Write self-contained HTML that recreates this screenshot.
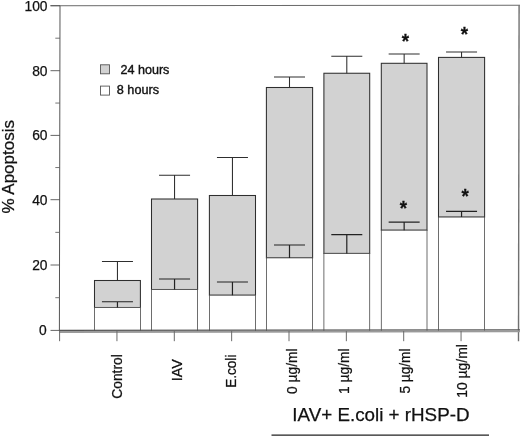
<!DOCTYPE html>
<html><head><meta charset="utf-8"><title>Apoptosis chart</title>
<style>html,body{margin:0;padding:0;background:#fff;}svg{display:block;}text{font-family:"Liberation Sans",sans-serif;fill:#111;stroke:#111;stroke-width:0.25px;}</style>
</head><body>
<svg width="520" height="437" viewBox="0 0 520 437">
<rect x="0" y="0" width="520" height="437" fill="#ffffff"/>
<rect x="94.5" y="280.5" width="45.90" height="27.00" fill="#d2d2d2" stroke="#2e2e2e" stroke-width="1.05"/>
<rect x="94.5" y="307.5" width="45.90" height="23.90" fill="#ffffff" stroke="#4a4a4a" stroke-width="0.8"/>
<path d="M117.45 280.5 V261.5 M101.95 261.5 H132.95" stroke="#2e2e2e" stroke-width="1.05" fill="none"/>
<path d="M117.45 307.5 V301.75 M101.95 301.75 H132.95" stroke="#222" stroke-width="1.2" fill="none"/>
<rect x="151.5" y="199.0" width="46.10" height="90.50" fill="#d2d2d2" stroke="#2e2e2e" stroke-width="1.05"/>
<rect x="151.5" y="289.5" width="46.10" height="41.90" fill="#ffffff" stroke="#4a4a4a" stroke-width="0.8"/>
<path d="M174.55 199.0 V175.25 M159.05 175.25 H190.05" stroke="#2e2e2e" stroke-width="1.05" fill="none"/>
<path d="M174.55 289.5 V279.0 M159.05 279.0 H190.05" stroke="#222" stroke-width="1.2" fill="none"/>
<rect x="209.4" y="195.5" width="46.10" height="99.70" fill="#d2d2d2" stroke="#2e2e2e" stroke-width="1.05"/>
<rect x="209.4" y="295.2" width="46.10" height="36.20" fill="#ffffff" stroke="#4a4a4a" stroke-width="0.8"/>
<path d="M232.45 195.5 V157.5 M216.95 157.5 H247.95" stroke="#2e2e2e" stroke-width="1.05" fill="none"/>
<path d="M232.45 295.2 V282.0 M216.95 282.0 H247.95" stroke="#222" stroke-width="1.2" fill="none"/>
<rect x="266.4" y="87.5" width="46.20" height="170.40" fill="#d2d2d2" stroke="#2e2e2e" stroke-width="1.05"/>
<rect x="266.4" y="257.9" width="46.20" height="73.50" fill="#ffffff" stroke="#4a4a4a" stroke-width="0.8"/>
<path d="M289.50 87.5 V77.0 M274.00 77.0 H305.00" stroke="#2e2e2e" stroke-width="1.05" fill="none"/>
<path d="M289.50 257.9 V245.0 M274.00 245.0 H305.00" stroke="#222" stroke-width="1.2" fill="none"/>
<rect x="323.9" y="73.25" width="45.80" height="180.15" fill="#d2d2d2" stroke="#2e2e2e" stroke-width="1.05"/>
<rect x="323.9" y="253.4" width="45.80" height="78.00" fill="#ffffff" stroke="#4a4a4a" stroke-width="0.8"/>
<path d="M346.80 73.25 V56.3 M331.30 56.3 H362.30" stroke="#2e2e2e" stroke-width="1.05" fill="none"/>
<path d="M346.80 253.4 V234.6 M331.30 234.6 H362.30" stroke="#222" stroke-width="1.2" fill="none"/>
<rect x="381.3" y="63.3" width="45.70" height="166.90" fill="#d2d2d2" stroke="#2e2e2e" stroke-width="1.05"/>
<rect x="381.3" y="230.2" width="45.70" height="101.20" fill="#ffffff" stroke="#4a4a4a" stroke-width="0.8"/>
<path d="M404.15 63.3 V53.9 M388.65 53.9 H419.65" stroke="#2e2e2e" stroke-width="1.05" fill="none"/>
<path d="M404.15 230.2 V222.1 M388.65 222.1 H419.65" stroke="#222" stroke-width="1.2" fill="none"/>
<rect x="438.5" y="57.4" width="46.10" height="159.70" fill="#d2d2d2" stroke="#2e2e2e" stroke-width="1.05"/>
<rect x="438.5" y="217.1" width="46.10" height="114.30" fill="#ffffff" stroke="#4a4a4a" stroke-width="0.8"/>
<path d="M461.55 57.4 V51.9 M446.05 51.9 H477.05" stroke="#2e2e2e" stroke-width="1.05" fill="none"/>
<path d="M461.55 217.1 V211.4 M446.05 211.4 H477.05" stroke="#222" stroke-width="1.2" fill="none"/>
<path d="M50.5 5.8 L520 5.2" stroke="#6a6a6a" stroke-width="1.1" fill="none"/>
<path d="M60.0 5.7 L59.4 331" stroke="#555" stroke-width="1" fill="none"/>
<path d="M519.1 5.2 L518.5 341.2" stroke="#707070" stroke-width="1.4" fill="none"/>
<path d="M59.4 332.0 L520 331.3" stroke="#9a9a9a" stroke-width="1.9" fill="none"/>
<path d="M59.4 330.4 L520 329.7" stroke="#555" stroke-width="1.1" fill="none"/>
<path d="M50.5 330.40 H60" stroke="#555" stroke-width="0.9" fill="none"/>
<text x="46.8" y="335.40" font-size="13.8" text-anchor="end">0</text>
<path d="M55.3 297.70 H60" stroke="#666" stroke-width="0.9" fill="none"/>
<path d="M50.5 265.00 H60" stroke="#555" stroke-width="0.9" fill="none"/>
<text x="47.5" y="270.00" font-size="13.8" text-anchor="end">20</text>
<path d="M55.3 232.35 H60" stroke="#666" stroke-width="0.9" fill="none"/>
<path d="M50.5 199.70 H60" stroke="#555" stroke-width="0.9" fill="none"/>
<text x="47.5" y="204.70" font-size="13.8" text-anchor="end">40</text>
<path d="M55.3 167.55 H60" stroke="#666" stroke-width="0.9" fill="none"/>
<path d="M50.5 135.40 H60" stroke="#555" stroke-width="0.9" fill="none"/>
<text x="47.5" y="140.40" font-size="13.8" text-anchor="end">60</text>
<path d="M55.3 103.05 H60" stroke="#666" stroke-width="0.9" fill="none"/>
<path d="M50.5 70.70 H60" stroke="#555" stroke-width="0.9" fill="none"/>
<text x="47.5" y="75.70" font-size="13.8" text-anchor="end">80</text>
<path d="M55.3 38.20 H60" stroke="#666" stroke-width="0.9" fill="none"/>
<path d="M50.5 5.70 H60" stroke="#555" stroke-width="0.9" fill="none"/>
<text x="47.5" y="10.70" font-size="13.8" text-anchor="end">100</text>
<path d="M59.60 331 V341.2" stroke="#6a6a6a" stroke-width="1" fill="none"/>
<path d="M116.95 331 V341.2" stroke="#6a6a6a" stroke-width="1" fill="none"/>
<path d="M174.30 331 V341.2" stroke="#6a6a6a" stroke-width="1" fill="none"/>
<path d="M231.65 331 V341.2" stroke="#6a6a6a" stroke-width="1" fill="none"/>
<path d="M289.00 331 V341.2" stroke="#6a6a6a" stroke-width="1" fill="none"/>
<path d="M346.35 331 V341.2" stroke="#6a6a6a" stroke-width="1" fill="none"/>
<path d="M403.70 331 V341.2" stroke="#6a6a6a" stroke-width="1" fill="none"/>
<path d="M461.05 331 V341.2" stroke="#6a6a6a" stroke-width="1" fill="none"/>
<text transform="translate(14.45 213.6) rotate(-90)" font-size="16.5" textLength="93.6" lengthAdjust="spacingAndGlyphs">% Apoptosis</text>
<rect x="100.5" y="64.8" width="9" height="9" fill="#d2d2d2" stroke="#555" stroke-width="0.9"/>
<rect x="100.5" y="86.1" width="9" height="9" fill="#ffffff" stroke="#555" stroke-width="0.9"/>
<text x="120.5" y="74.1" font-size="13.2" textLength="48.9" lengthAdjust="spacingAndGlyphs" style="stroke-width:0.4px">24 hours</text>
<text x="116.8" y="94.4" font-size="13.2" textLength="42.2" lengthAdjust="spacingAndGlyphs" style="stroke-width:0.4px">8 hours</text>
<text transform="translate(122.4 398.8) rotate(-90)" font-size="15" textLength="44.6" lengthAdjust="spacingAndGlyphs">Control</text>
<text transform="translate(182.2 381.2) rotate(-90)" font-size="15" textLength="22.0" lengthAdjust="spacingAndGlyphs">IAV</text>
<text transform="translate(236.0 387.8) rotate(-90)" font-size="15" textLength="33.2" lengthAdjust="spacingAndGlyphs">E.coli</text>
<text transform="translate(297.0 393.9) rotate(-90)" font-size="15" textLength="45.4" lengthAdjust="spacingAndGlyphs">0 µg/ml</text>
<text transform="translate(348.8 393.9) rotate(-90)" font-size="15" textLength="45.4" lengthAdjust="spacingAndGlyphs">1 µg/ml</text>
<text transform="translate(409.8 393.5) rotate(-90)" font-size="15" textLength="45.0" lengthAdjust="spacingAndGlyphs">5 µg/ml</text>
<text transform="translate(467.4 397.7) rotate(-90)" font-size="15" textLength="53.5" lengthAdjust="spacingAndGlyphs">10 µg/ml</text>
<text transform="translate(405.4 47.7) scale(0.92 1)" font-size="20.5" font-weight="bold" text-anchor="middle">*</text>
<text transform="translate(464.5 41.4) scale(0.92 1)" font-size="20.5" font-weight="bold" text-anchor="middle">*</text>
<text transform="translate(403.5 215.1) scale(0.92 1)" font-size="20.5" font-weight="bold" text-anchor="middle">*</text>
<text transform="translate(465.2 203.3) scale(0.92 1)" font-size="20.5" font-weight="bold" text-anchor="middle">*</text>
<text x="292.3" y="420.9" font-size="17.8" textLength="177.2" lengthAdjust="spacingAndGlyphs">IAV+ E.coli + rHSP-D</text>
<path d="M271.5 435.1 H489" stroke="#222" stroke-width="1.1" fill="none"/>
</svg>
</body></html>
